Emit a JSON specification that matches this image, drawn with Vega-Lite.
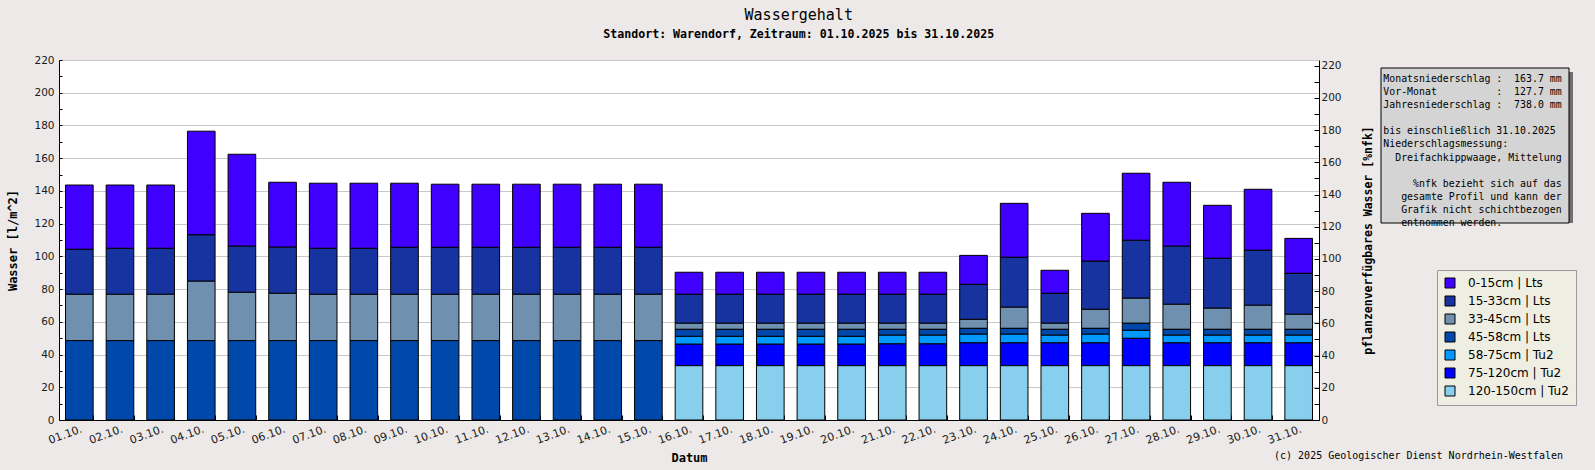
{
  "$schema": "https://vega.github.io/schema/vega-lite/v6.json",
  "background": "#ece9e8",
  "padding": {"left": 6, "top": 8, "right": 25, "bottom": 12},
  "bounds": "flush",
  "spacing": 62,
  "title": {
    "text": "Wassergehalt",
    "subtitle": "Standort: Warendorf, Zeitraum: 01.10.2025 bis 31.10.2025",
    "font": "DejaVu Sans Mono", "fontSize": 15, "fontWeight": "normal", "color": "black",
    "subtitleFont": "DejaVu Sans Mono", "subtitleFontSize": 11.6, "subtitleFontWeight": "bold", "subtitleColor": "black",
    "subtitlePadding": 6, "anchor": "middle", "dx": 7, "offset": 14
  },
  "datasets": {
    "wasser": [
      {"tag": "01.10.", "s0_15": 39.3, "s15_33": 27.5, "s33_45": 28.3, "s45_58": 48.5, "s58_75": 0, "s75_120": 0, "s120_150": 0},
      {"tag": "02.10.", "s0_15": 38.7, "s15_33": 28.1, "s33_45": 28.3, "s45_58": 48.5, "s58_75": 0, "s75_120": 0, "s120_150": 0},
      {"tag": "03.10.", "s0_15": 38.7, "s15_33": 28.1, "s33_45": 28.3, "s45_58": 48.5, "s58_75": 0, "s75_120": 0, "s120_150": 0},
      {"tag": "04.10.", "s0_15": 63.4, "s15_33": 28.3, "s33_45": 36.3, "s45_58": 48.5, "s58_75": 0, "s75_120": 0, "s120_150": 0},
      {"tag": "05.10.", "s0_15": 56.2, "s15_33": 28.2, "s33_45": 29.5, "s45_58": 48.5, "s58_75": 0, "s75_120": 0, "s120_150": 0},
      {"tag": "06.10.", "s0_15": 39.7, "s15_33": 28.2, "s33_45": 28.9, "s45_58": 48.5, "s58_75": 0, "s75_120": 0, "s120_150": 0},
      {"tag": "07.10.", "s0_15": 39.8, "s15_33": 28.1, "s33_45": 28.3, "s45_58": 48.5, "s58_75": 0, "s75_120": 0, "s120_150": 0},
      {"tag": "08.10.", "s0_15": 39.8, "s15_33": 28.1, "s33_45": 28.3, "s45_58": 48.5, "s58_75": 0, "s75_120": 0, "s120_150": 0},
      {"tag": "09.10.", "s0_15": 39.2, "s15_33": 28.7, "s33_45": 28.3, "s45_58": 48.5, "s58_75": 0, "s75_120": 0, "s120_150": 0},
      {"tag": "10.10.", "s0_15": 38.6, "s15_33": 28.7, "s33_45": 28.3, "s45_58": 48.5, "s58_75": 0, "s75_120": 0, "s120_150": 0},
      {"tag": "11.10.", "s0_15": 38.6, "s15_33": 28.7, "s33_45": 28.3, "s45_58": 48.5, "s58_75": 0, "s75_120": 0, "s120_150": 0},
      {"tag": "12.10.", "s0_15": 38.6, "s15_33": 28.7, "s33_45": 28.3, "s45_58": 48.5, "s58_75": 0, "s75_120": 0, "s120_150": 0},
      {"tag": "13.10.", "s0_15": 38.6, "s15_33": 28.7, "s33_45": 28.3, "s45_58": 48.5, "s58_75": 0, "s75_120": 0, "s120_150": 0},
      {"tag": "14.10.", "s0_15": 38.6, "s15_33": 28.7, "s33_45": 28.3, "s45_58": 48.5, "s58_75": 0, "s75_120": 0, "s120_150": 0},
      {"tag": "15.10.", "s0_15": 38.6, "s15_33": 28.7, "s33_45": 28.3, "s45_58": 48.5, "s58_75": 0, "s75_120": 0, "s120_150": 0},
      {"tag": "16.10.", "s0_15": 13.5, "s15_33": 17.7, "s33_45": 3.7, "s45_58": 4.3, "s58_75": 4.8, "s75_120": 13.1, "s120_150": 33.2},
      {"tag": "17.10.", "s0_15": 13.5, "s15_33": 17.7, "s33_45": 3.7, "s45_58": 4.3, "s58_75": 4.8, "s75_120": 13.1, "s120_150": 33.2},
      {"tag": "18.10.", "s0_15": 13.5, "s15_33": 17.7, "s33_45": 3.7, "s45_58": 4.3, "s58_75": 4.8, "s75_120": 13.1, "s120_150": 33.2},
      {"tag": "19.10.", "s0_15": 13.5, "s15_33": 17.7, "s33_45": 3.7, "s45_58": 4.3, "s58_75": 4.8, "s75_120": 13.1, "s120_150": 33.2},
      {"tag": "20.10.", "s0_15": 13.5, "s15_33": 17.7, "s33_45": 3.7, "s45_58": 4.3, "s58_75": 4.8, "s75_120": 13.1, "s120_150": 33.2},
      {"tag": "21.10.", "s0_15": 13.5, "s15_33": 17.7, "s33_45": 3.7, "s45_58": 3.6, "s58_75": 5.3, "s75_120": 13.3, "s120_150": 33.2},
      {"tag": "22.10.", "s0_15": 13.5, "s15_33": 17.7, "s33_45": 3.7, "s45_58": 3.6, "s58_75": 5.3, "s75_120": 13.3, "s120_150": 33.2},
      {"tag": "23.10.", "s0_15": 17.7, "s15_33": 21.4, "s33_45": 5.5, "s45_58": 3.6, "s58_75": 5.3, "s75_120": 13.9, "s120_150": 33.2},
      {"tag": "24.10.", "s0_15": 33.0, "s15_33": 30.5, "s33_45": 12.9, "s45_58": 3.6, "s58_75": 5.3, "s75_120": 13.9, "s120_150": 33.2},
      {"tag": "25.10.", "s0_15": 14.1, "s15_33": 18.3, "s33_45": 3.7, "s45_58": 3.6, "s58_75": 4.7, "s75_120": 13.9, "s120_150": 33.2},
      {"tag": "26.10.", "s0_15": 29.3, "s15_33": 29.4, "s33_45": 11.6, "s45_58": 3.6, "s58_75": 5.3, "s75_120": 13.9, "s120_150": 33.2},
      {"tag": "27.10.", "s0_15": 41.0, "s15_33": 35.4, "s33_45": 15.3, "s45_58": 4.3, "s58_75": 4.9, "s75_120": 16.7, "s120_150": 33.2},
      {"tag": "28.10.", "s0_15": 39.1, "s15_33": 35.5, "s33_45": 15.3, "s45_58": 3.6, "s58_75": 4.7, "s75_120": 13.9, "s120_150": 33.2},
      {"tag": "29.10.", "s0_15": 32.4, "s15_33": 30.5, "s33_45": 12.9, "s45_58": 3.6, "s58_75": 4.7, "s75_120": 13.9, "s120_150": 33.2},
      {"tag": "30.10.", "s0_15": 37.3, "s15_33": 33.6, "s33_45": 14.7, "s45_58": 3.6, "s58_75": 4.7, "s75_120": 13.9, "s120_150": 33.2},
      {"tag": "31.10.", "s0_15": 21.4, "s15_33": 25.0, "s33_45": 9.2, "s45_58": 3.6, "s58_75": 4.7, "s75_120": 13.9, "s120_150": 33.2}
    ],
    "schichten": [
      {"key": "s0_15", "schicht": "0-15cm | Lts", "rang": 7},
      {"key": "s15_33", "schicht": "15-33cm | Lts", "rang": 6},
      {"key": "s33_45", "schicht": "33-45cm | Lts", "rang": 5},
      {"key": "s45_58", "schicht": "45-58cm | Lts", "rang": 4},
      {"key": "s58_75", "schicht": "58-75cm | Tu2", "rang": 3},
      {"key": "s75_120", "schicht": "75-120cm | Tu2", "rang": 2},
      {"key": "s120_150", "schicht": "120-150cm | Tu2", "rang": 1}
    ],
    "info": [
      {"zeile": 1, "text": "Monatsniederschlag :\u00a0\u00a0163.7 mm"},
      {"zeile": 2, "text": "Vor-Monat\u00a0\u00a0\u00a0\u00a0\u00a0\u00a0\u00a0\u00a0\u00a0\u00a0:\u00a0\u00a0127.7 mm"},
      {"zeile": 3, "text": "Jahresniederschlag :\u00a0\u00a0738.0 mm"},
      {"zeile": 4, "text": ""},
      {"zeile": 5, "text": "bis einschließlich 31.10.2025\u00a0\u200b"},
      {"zeile": 6, "text": "Niederschlagsmessung:\u00a0\u00a0\u00a0\u00a0\u00a0\u00a0\u00a0\u00a0\u00a0\u200b"},
      {"zeile": 7, "text": "\u200b\u00a0\u00a0Dreifachkippwaage, Mittelung"},
      {"zeile": 8, "text": ""},
      {"zeile": 9, "text": "\u200b\u00a0\u00a0\u00a0\u00a0\u00a0%nfk bezieht sich auf das"},
      {"zeile": 10, "text": "\u200b\u00a0\u00a0\u00a0gesamte Profil und kann der"},
      {"zeile": 11, "text": "\u200b\u00a0\u00a0\u00a0Grafik nicht schichtbezogen"},
      {"zeile": 12, "text": "\u200b\u00a0\u00a0\u00a0entnommen werden.\u00a0\u00a0\u00a0\u00a0\u00a0\u00a0\u00a0\u00a0\u00a0\u00a0\u200b"}
    ]
  },
  "hconcat": [
    {
      "width": 1260,
      "height": 360,
      "view": {"fill": "white", "stroke": null},
      "data": {"name": "wasser"},
      "layer": [
        {
          "transform": [
            {"fold": ["s0_15", "s15_33", "s33_45", "s45_58", "s58_75", "s75_120", "s120_150"], "as": ["key", "wert"]},
            {"filter": "datum.wert > 0"},
            {"lookup": "key", "from": {"data": {"name": "schichten"}, "key": "key", "fields": ["schicht", "rang"]}}
          ],
          "mark": {"type": "bar", "stroke": "black", "strokeWidth": 1},
          "encoding": {
            "x": {
              "field": "tag", "type": "ordinal", "sort": null,
              "scale": {"paddingInner": 0.32, "paddingOuter": 0.16},
              "axis": {
                "title": "Datum", "labelAngle": -20, "labelAlign": "right", "labelBaseline": "top",
                "labelFontSize": 11, "tickBand": "extent", "tickSize": -5, "labelPadding": 8,
                "titlePadding": 7.5, "grid": false
              }
            },
            "y": {
              "field": "wert", "type": "quantitative",
              "scale": {"domain": [0, 220], "nice": false},
              "axis": {
                "title": "Wasser [l/m^2]",
                "values": [0, 10, 20, 30, 40, 50, 60, 70, 80, 90, 100, 110, 120, 130, 140, 150, 160, 170, 180, 190, 200, 210, 220],
                "labelExpr": "datum.value % 20 === 0 ? datum.label : ''",
                "gridOpacity": {"condition": {"test": "datum.value % 20 === 0", "value": 1}, "value": 0},
                "tickSize": -3, "labelPadding": 8, "titlePadding": 14
              }
            },
            "color": {
              "field": "schicht", "type": "nominal",
              "scale": {
                "domain": ["0-15cm | Lts", "15-33cm | Lts", "33-45cm | Lts", "45-58cm | Lts", "58-75cm | Tu2", "75-120cm | Tu2", "120-150cm | Tu2"],
                "range": ["#4000ff", "#1733a0", "#7090b0", "#0048aa", "#0099ff", "#0000ff", "#88cfee"]
              },
              "legend": {
                "orient": "none", "legendX": 1378, "legendY": 210, "title": null,
                "symbolType": "square", "symbolSize": 100, "symbolStrokeColor": "black", "symbolStrokeWidth": 1,
                "labelFont": "DejaVu Sans", "labelFontSize": 12, "labelColor": "black", "labelOffset": 12,
                "rowPadding": 4, "padding": 7, "fillColor": "#efeee2", "strokeColor": "#999999"
              }
            },
            "order": {"field": "rang", "type": "quantitative"}
          }
        },
        {
          "mark": {"type": "point", "opacity": 0},
          "encoding": {
            "y": {
              "datum": 0, "type": "quantitative",
              "scale": {"domain": [0, 223.6], "nice": false},
              "axis": {
                "orient": "right", "title": "pflanzenverfügbares Wasser [%nfk]",
                "titleFontSize": 11.5, "titleAngle": 270, "titleBaseline": "top",
                "values": [0, 10, 20, 30, 40, 50, 60, 70, 80, 90, 100, 110, 120, 130, 140, 150, 160, 170, 180, 190, 200, 210, 220],
                "labelExpr": "datum.value % 20 === 0 ? datum.label : ''",
                "grid": false, "tickSize": -5, "labelPadding": 7, "titlePadding": 21
              }
            }
          }
        }
      ],
      "resolve": {"scale": {"y": "independent"}}
    },
    {
      "width": 188,
      "height": 163,
      "view": {"fill": null, "stroke": null},
      "title": {
        "text": "(c) 2025 Geologischer Dienst Nordrhein-Westfalen",
        "orient": "bottom", "anchor": "end", "font": "DejaVu Sans Mono", "fontSize": 10,
        "fontWeight": "normal", "color": "black", "offset": 223, "dx": -10
      },
      "layer": [
        {
          "data": {"values": [{"box": "schatten"}]},
          "mark": {"type": "rect", "fill": "#6f6f6f", "xOffset": 4, "x2Offset": 4, "yOffset": 12, "y2Offset": 12},
          "encoding": {}
        },
        {
          "data": {"values": [{"box": "info"}]},
          "mark": {"type": "rect", "fill": "#d4d4d4", "stroke": "black", "strokeWidth": 1, "yOffset": 8, "y2Offset": 8},
          "encoding": {}
        },
        {
          "data": {"name": "info"},
          "mark": {"type": "text", "font": "DejaVu Sans Mono", "fontSize": 9.9, "align": "center", "baseline": "middle", "dx": -2.5, "dy": 9.5, "color": "black"},
          "encoding": {
            "y": {"field": "zeile", "type": "ordinal", "axis": null, "scale": {"type": "point", "padding": 0.73}},
            "text": {"field": "text"}
          }
        }
      ]
    }
  ],
  "config": {
    "view": {"stroke": null},
    "axis": {
      "domainColor": "black", "tickColor": "black", "labelColor": "#1a1a1a",
      "labelFont": "DejaVu Sans", "labelFontSize": 10.5,
      "titleFont": "DejaVu Sans Mono", "titleFontSize": 12, "titleFontWeight": "bold", "titleColor": "black",
      "gridColor": "#c8c8c8"
    }
  }
}
